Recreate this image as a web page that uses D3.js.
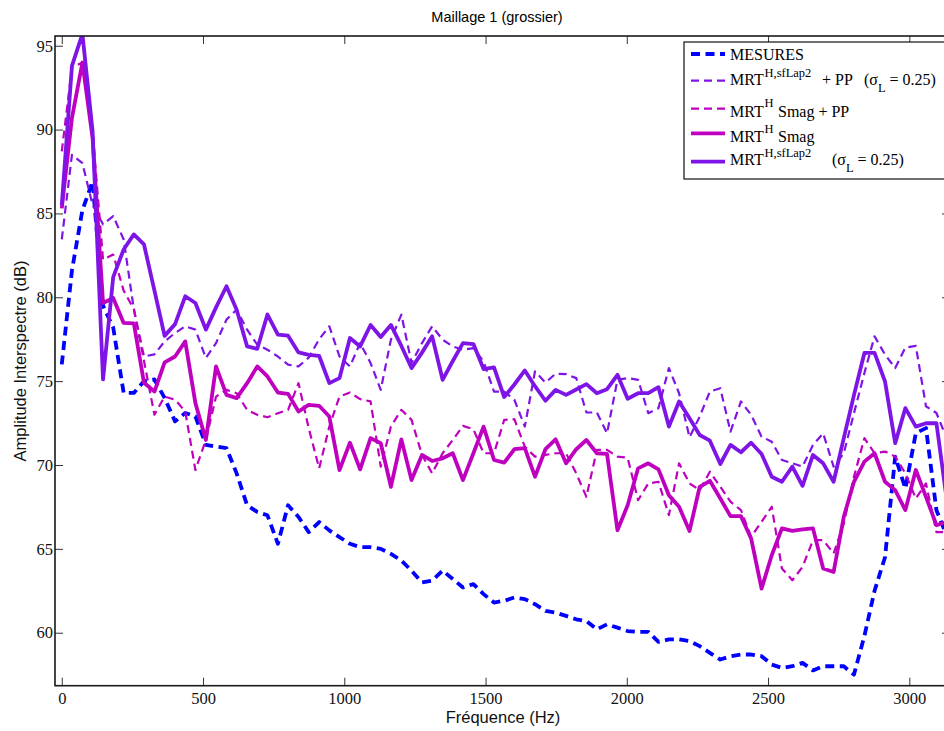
<!DOCTYPE html>
<html><head><meta charset="utf-8">
<script src="https://cdn.jsdelivr.net/npm/d3@7"></script>
<style>body{margin:0;background:#fff;overflow:hidden}</style>
</head><body><svg id="c" width="944" height="731"></svg>
<script>
const freqs = [0,36,73,109,146,182,219,255,291,328,364,401,437,473,510,546,583,619,656,692,728,765,801,838,874,911,947,983,1020,1056,1093,1129,1165,1202,1238,1275,1311,1348,1384,1420,1457,1493,1530,1566,1602,1639,1675,1712,1748,1785,1821,1857,1894,1930,1967,2003,2040,2076,2112,2149,2185,2222,2258,2294,2331,2367,2404,2440,2477,2513,2549,2586,2622,2659,2695,2732,2768,2804,2841,2877,2914,2950,2986,3023,3059,3096,3132];

const mesures = [76.0,81.6,85.2,86.9,79.5,78.2,74.3,74.3,75.0,75.1,74.0,72.6,73.1,72.9,71.2,71.1,71.0,69.5,67.6,67.2,67.0,65.3,67.6,66.9,66.0,66.6,66.1,65.7,65.3,65.1,65.1,65.0,64.7,64.3,63.7,63.0,63.1,63.7,63.2,62.7,62.9,62.3,61.8,61.9,62.1,62.0,61.7,61.3,61.2,61.0,60.8,60.7,60.2,60.5,60.3,60.1,60.05,60.05,59.45,59.6,59.6,59.5,59.2,58.8,58.4,58.6,58.7,58.7,58.6,58.1,57.9,58.0,58.2,57.75,58.0,58.0,58.0,57.5,59.8,62.5,64.5,70.5,68.6,71.9,72.2,67.3,65.8];

const sfLap2PP = [83.45,88.5,88.0,85.5,84.35,84.84,83.45,79.3,76.47,76.6,77.37,77.87,78.27,78.07,76.38,77.27,78.67,79.26,78.07,77.17,76.87,76.47,75.98,75.88,76.4,77.5,78.27,76.47,75.88,77.27,76.08,74.48,77.47,78.97,76.08,77.27,78.27,77.47,77.07,76.87,76.97,76.17,74.38,74.38,73.89,72.29,75.58,74.92,75.44,75.42,75.18,73.13,73.13,71.89,75.08,75.18,75.08,73.09,73.39,75.78,74.28,71.65,72.89,74.38,74.58,71.99,73.79,72.99,71.69,71.39,70.3,70.1,69.9,71.2,71.89,69.9,70.7,73.09,75.48,77.67,76.58,75.78,77.0,77.1,73.5,73.1,71.6];

const smagPP = [88.7,93.7,94.0,89.9,82.25,82.55,80.4,79.3,76.2,73.0,74.08,73.89,73.19,69.7,71.49,74.08,74.48,74.28,73.29,72.99,72.85,73.09,73.29,74.88,72.2,69.8,72.29,74.08,74.32,73.93,73.79,69.9,72.29,73.29,72.69,70.6,69.5,70.7,71.49,72.33,72.13,70.7,70.7,72.69,72.73,71.09,70.5,70.6,70.7,70.7,69.5,68.1,70.9,70.9,70.5,70.43,67.9,68.9,69.0,67.01,70.1,68.9,68.5,69.6,68.7,67.81,67.31,65.72,66.61,67.51,63.83,63.13,63.92,65.52,65.52,64.72,66.51,69.3,71.6,70.7,70.8,70.5,69.5,68.0,68.9,66.0,66.0];

const smag = [85.3,90.7,94.0,89.5,79.66,79.96,78.47,78.45,74.9,74.38,76.12,76.47,77.37,73.69,71.49,75.88,74.18,73.99,74.88,75.88,75.28,74.32,74.24,73.19,73.59,73.53,72.89,69.7,71.33,69.74,71.6,71.3,68.7,71.53,69.1,70.6,70.24,70.4,70.7,69.1,70.7,72.29,70.3,70.14,70.94,71.0,69.3,70.94,71.53,70.1,70.94,71.49,70.7,70.66,66.11,67.6,69.8,70.1,69.74,68.2,67.51,66.07,68.7,69.06,68.0,66.95,66.95,65.62,62.63,64.62,66.22,66.07,66.16,66.22,63.83,63.62,66.91,69.0,70.2,70.7,69.0,68.5,67.31,69.7,68.1,66.41,66.6];

const sfLap2 = [85.5,93.8,95.7,89.9,75.1,81.2,82.85,83.75,83.15,80.4,77.7,78.4,80.06,79.66,78.07,79.4,80.66,79.26,77.07,76.93,78.97,77.77,77.71,76.71,76.57,76.5,74.88,75.18,77.57,77.07,78.35,77.63,78.35,77.1,75.78,76.7,77.67,75.08,76.2,77.27,77.21,75.72,75.82,74.05,74.8,75.64,74.7,73.83,74.48,74.18,74.5,74.82,74.28,74.52,75.38,73.95,74.28,74.28,74.64,72.29,73.79,72.79,71.79,71.45,70.06,71.2,70.76,71.33,70.66,69.3,69.0,69.9,68.76,70.6,70.1,69.0,71.6,74.17,76.68,76.68,74.98,71.3,73.39,72.29,72.49,72.49,68.0];

const xTicks = [0,500,1000,1500,2000,2500,3000];
const yTicks = [60,65,70,75,80,85,90,95];

const seriesList = [
  {name:"mesures", values: mesures, color:"#0000ff", width:3.8, dash:"9,5.5"},
  {name:"sfLap2PP", values: sfLap2PP, color:"#7f14e6", width:2.2, dash:"8,5"},
  {name:"smagPP", values: smagPP, color:"#bf00bf", width:2.2, dash:"8,5"},
  {name:"smag", values: smag, color:"#bf00bf", width:3.8, dash:null},
  {name:"sfLap2", values: sfLap2, color:"#7f14e6", width:3.8, dash:null}
];

const L = 55, R = 950, T = 36, B = 685.7;
const svg = d3.select("#c");
const x = d3.scaleLinear().domain([-24, 3144]).range([L, R]);
const y = d3.scaleLinear().domain([56.84, 95.58]).range([B, T]);

svg.append("defs").append("clipPath").attr("id","clip")
  .append("rect").attr("x",L).attr("y",T).attr("width",R-L).attr("height",B-T);

// title
svg.append("text").attr("x",497).attr("y",22).attr("text-anchor","middle")
  .style("font-family","'Liberation Sans', Arial, sans-serif").style("font-size","14.5px").attr("fill","#000")
  .text("Maillage 1 (grossier)");

// axes
const axStyle = g => {
  g.selectAll(".domain").remove();
  g.selectAll(".tick line").attr("stroke","#333").attr("stroke-width",1);
  g.selectAll(".tick text").style("font-family","'Liberation Serif', 'Times New Roman', serif").style("font-size","16.5px").attr("fill","#111");
};
svg.append("g").attr("transform",`translate(0,${B})`)
  .call(d3.axisBottom(x).tickValues(xTicks).tickSize(-8).tickPadding(7).tickFormat(d3.format("d")))
  .call(axStyle);
svg.append("g").attr("transform",`translate(0,${T})`)
  .call(d3.axisTop(x).tickValues(xTicks).tickSize(-8).tickFormat(""))
  .call(axStyle);
svg.append("g").attr("transform",`translate(${L},0)`)
  .call(d3.axisLeft(y).tickValues(yTicks).tickSize(-8).tickPadding(2).tickFormat(d3.format("d")))
  .call(axStyle);
svg.append("g").attr("transform",`translate(${R},0)`)
  .call(d3.axisRight(y).tickValues(yTicks).tickSize(-8).tickFormat(""))
  .call(axStyle);

// lines
const line = d3.line().x((d,i)=>x(freqs[i])).y(d=>y(d));
const lg = svg.append("g").attr("clip-path","url(#clip)");
seriesList.forEach(s=>{
  lg.append("path").datum(s.values).attr("d",line)
    .attr("fill","none").attr("stroke",s.color).attr("stroke-width",s.width)
    .attr("stroke-dasharray",s.dash).attr("stroke-linejoin","round");
});

// frame
svg.append("rect").attr("x",L).attr("y",T).attr("width",R-L).attr("height",B-T)
  .attr("fill","none").attr("stroke","#1a1a1a").attr("stroke-width",1.6);

// axis labels
svg.append("text").attr("x",503).attr("y",723).attr("text-anchor","middle")
  .style("font-family","'Liberation Sans', Arial, sans-serif").style("font-size","16.5px").attr("fill","#111")
  .text("Fréquence (Hz)");
svg.append("text").attr("transform","translate(25.5,361) rotate(-90)").attr("text-anchor","middle")
  .style("font-family","'Liberation Sans', Arial, sans-serif").style("font-size","16.5px").attr("fill","#111")
  .text("Amplitude Interspectre (dB)");

// legend
const leg = svg.append("g");
leg.append("rect").attr("x",684).attr("y",42).attr("width",300).attr("height",137)
  .attr("fill","#fff").attr("stroke","#111").attr("stroke-width",1.2);
const legRows = [
  {s:seriesList[0], ly:54, by:60},
  {s:seriesList[1], ly:80.7, by:85},
  {s:seriesList[2], ly:108.7, by:116.5},
  {s:seriesList[3], ly:133.3, by:142},
  {s:seriesList[4], ly:161.7, by:165}
];
legRows.forEach(r=>{
  leg.append("line").attr("x1",691).attr("x2",725).attr("y1",r.ly).attr("y2",r.ly)
    .attr("stroke",r.s.color).attr("stroke-width",r.s.width).attr("stroke-dasharray",r.s.dash);
});
const serif = "'Liberation Serif', 'Times New Roman', serif";
function txt(xp, yp, size){
  return leg.append("text").attr("x",xp).attr("y",yp).style("font-family",serif).style("font-size",size+"px").attr("fill","#000");
}
txt(730,60,16).text("MESURES");
// row 2
txt(730,85,16).text("MRT");
txt(764.5,76.5,12.5).text("H,sfLap2");
txt(822,85,16).text("+ PP");
let t2 = txt(864,85,16); t2.append("tspan").text("(σ"); t2.append("tspan").attr("dy",7).style("font-size","12.5px").text("L");
t2.append("tspan").attr("dy",-7).text(" = 0.25)");
// row 3
txt(730,116.5,16).text("MRT");
txt(764.5,107,12.5).text("H");
txt(778,116.5,16).text("Smag + PP");
// row 4
txt(730,142,16).text("MRT");
txt(764.5,132.5,12.5).text("H");
txt(778,142,16).text("Smag");
// row 5
txt(730,165,16).text("MRT");
txt(764.5,156.5,12.5).text("H,sfLap2");
let t5 = txt(832,165,16); t5.append("tspan").text("(σ"); t5.append("tspan").attr("dy",7).style("font-size","12.5px").text("L");
t5.append("tspan").attr("dy",-7).text(" = 0.25)");
</script></body></html>
